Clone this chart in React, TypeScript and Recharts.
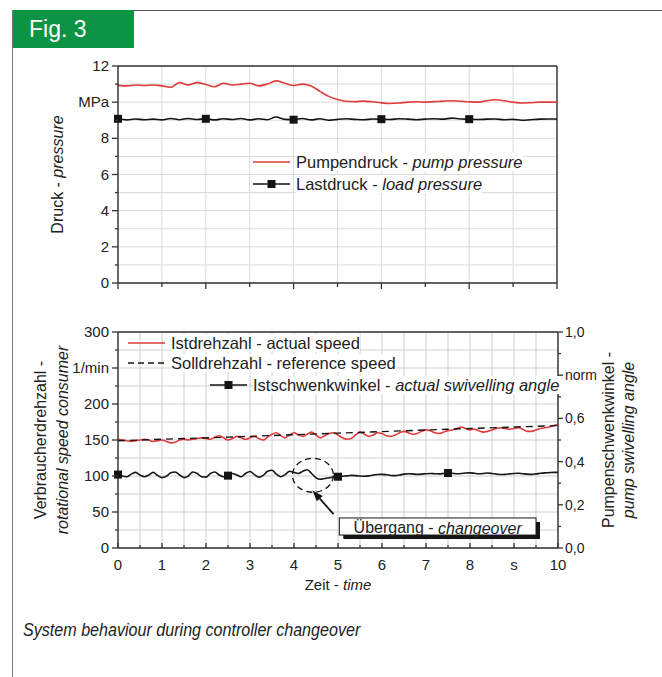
import React from "react";
import {
  CartesianGrid,
  Legend,
  Line,
  LineChart,
  ReferenceArea,
  ReferenceDot,
  ReferenceLine,
  XAxis,
  YAxis,
} from "recharts";

const FONT = '"Liberation Sans", Arial, Helvetica, sans-serif';
const RED = "#e23b3b";
const BLACK = "#141414";
const AXIS = "#333";
const GREEN = "#0b9444";

// ---- top chart: pressure, sampled every 0.2 s ----
const TOP_STEP = 0.2;
const pumpPressure = [
  10.93, 10.9, 10.95, 10.92, 10.95, 10.9, 10.82, 11.08, 10.95, 11.08,
  10.98, 10.85, 11.05, 10.95, 11.0, 11.05, 10.9, 11.0, 11.18, 11.05,
  10.92, 11.0, 10.9, 10.6, 10.32, 10.15, 10.05, 10.03, 10.06, 10.02,
  9.96, 9.93, 9.95, 10.0, 10.02, 10.0, 10.03, 10.06, 10.08, 10.05,
  10.02, 10.0, 10.08, 10.13, 10.08, 10.0, 9.95, 9.97, 10.0, 10.0, 10.0,
];
const loadPressure = [
  9.08, 9.02, 9.07, 9.03, 9.06, 9.02, 9.1, 9.03, 9.1, 9.04,
  9.08, 9.02, 9.08, 9.04, 9.1, 9.02, 9.08, 9.03, 9.18, 9.05,
  9.03, 9.1, 9.02, 9.08, 9.0, 9.05, 9.08, 9.05, 9.03, 9.07,
  9.06, 9.04, 9.08, 9.06, 9.03, 9.06, 9.08, 9.06, 9.12, 9.07,
  9.06, 9.04, 9.06, 9.07, 9.03, 9.05, 9.0, 9.03, 9.06, 9.07, 9.07,
];
const loadMarkers = [0, 2, 4, 6, 8];
const topXTicks = [0, 1, 2, 3, 4, 5, 6, 7, 8, 9, 10];
const topYTicks = [0, 1, 2, 3, 4, 5, 6, 7, 8, 9, 10, 11, 12];
const topSeriesDe = ["Pumpendruck", "Lastdruck"];
const topSeriesEn = ["pump pressure", "load pressure"];

// ---- bottom chart: speed and swivel angle, sampled every 0.1 s ----
const BOTTOM_STEP = 0.1;
const actualSpeed = [
  151, 150, 149, 148, 149, 150, 151, 150, 148, 149,
  150, 148, 146, 147, 150, 151, 150, 151, 152, 153,
  152, 151, 154, 156, 153, 150, 152, 155, 153, 151,
  153, 155, 152, 150, 154, 158, 160, 156, 153, 157,
  160, 157, 155, 158, 161, 157, 153, 156, 159, 160,
  157, 153, 151, 152, 157, 161, 158, 155, 157, 160,
  159, 156, 155, 157, 160, 162, 160, 158, 159, 162,
  164, 163, 160, 159, 161, 163, 164, 166, 168, 166,
  164, 165, 163, 161, 162, 164, 166, 167, 166, 165,
  166, 167, 165, 162, 162, 164, 166, 167, 168, 170, 171,
];
const referenceTimes = [0, 2.5, 5, 7.5, 10];
const referenceSpeed = [149, 154, 159.5, 165, 170];
const swivelAngle = [
  0.34, 0.333, 0.33, 0.342, 0.35, 0.338, 0.33, 0.338, 0.35, 0.336,
  0.326, 0.332, 0.348, 0.352, 0.338, 0.326, 0.334, 0.352, 0.345, 0.33,
  0.328, 0.345, 0.352, 0.338, 0.33, 0.335, 0.345, 0.338, 0.33, 0.345,
  0.354, 0.34, 0.328, 0.336, 0.355, 0.36, 0.342, 0.33, 0.34, 0.355,
  0.35, 0.345, 0.355, 0.362, 0.345, 0.325, 0.318, 0.322, 0.325, 0.328,
  0.33, 0.332, 0.334, 0.336, 0.335, 0.333, 0.332, 0.334, 0.338, 0.34,
  0.341, 0.339, 0.336, 0.335, 0.338, 0.342, 0.344, 0.343, 0.341, 0.342,
  0.344, 0.345, 0.344, 0.343, 0.345, 0.347, 0.346, 0.344, 0.345, 0.347,
  0.348, 0.346, 0.344, 0.345, 0.347, 0.345, 0.342, 0.34, 0.341, 0.343,
  0.345, 0.346, 0.344, 0.342, 0.341, 0.343, 0.346, 0.348, 0.349, 0.35, 0.35,
];
const swivelMarkers = [0, 2.5, 5, 7.5];
const bottomXTicks = [0, 0.5, 1, 1.5, 2, 2.5, 3, 3.5, 4, 4.5, 5, 5.5, 6, 6.5, 7, 7.5, 8, 8.5, 9, 9.5, 10];
const speedTicks = [0, 25, 50, 75, 100, 125, 150, 175, 200, 225, 250, 275, 300];
const angleTicks = [0, 0.1, 0.2, 0.3, 0.4, 0.5, 0.6, 0.7, 0.8, 0.9, 1.0];
const bottomSeriesDe = ["Istdrehzahl", "Solldrehzahl", "Istschwenkwinkel"];
const bottomSeriesEn = ["actual speed", "reference speed", "actual swivelling angle"];
const bottomEnItalic = [false, false, true];

const topData = pumpPressure.map((p, i) => ({
  t: Math.round(i * TOP_STEP * 10) / 10,
  pump: p,
  load: loadPressure[i],
}));
const bottomData = actualSpeed.map((s, i) => ({
  t: Math.round(i * BOTTOM_STEP * 10) / 10,
  speed: s,
  angle: swivelAngle[i],
}));
const refData = referenceTimes.map((t, i) => ({ t, ref: referenceSpeed[i] }));

const squareDots = (marks: number[]) => (props: any) => {
  const { cx, cy, payload, index } = props;
  if (!marks.some((m) => Math.abs(m - payload.t) < 1e-6)) return <g key={`d-${index}`} />;
  return <rect key={`d-${index}`} x={cx - 4} y={cy - 4} width={8} height={8} fill={BLACK} />;
};

const tickText = { fontSize: 15, fill: "#222", fontFamily: FONT };

function TopXTick(props: any) {
  const { x, y, payload } = props;
  const len = payload.value % 2 === 0 ? 6 : 4;
  return <line x1={x} x2={x} y1={y} y2={y + len} stroke={AXIS} strokeWidth={1.3} />;
}

function TopYTick(props: any) {
  const { x, y, payload } = props;
  const v = payload.value;
  const major = v % 2 === 0;
  return (
    <g>
      <line x1={x} x2={x - (major ? 6 : 3)} y1={y} y2={y} stroke={AXIS} strokeWidth={1.3} />
      {major && (
        <text x={x - 9} y={y + 5} textAnchor="end" {...tickText}>
          {v === 10 ? "MPa" : v}
        </text>
      )}
    </g>
  );
}

function BottomXTick(props: any) {
  const { x, y, payload } = props;
  const v = payload.value;
  const major = Number.isInteger(v);
  return (
    <g>
      <line x1={x} x2={x} y1={y} y2={y - (major ? 5 : 3)} stroke={AXIS} strokeWidth={1.3} />
      {major && (
        <text x={x} y={y + 22} textAnchor="middle" {...tickText}>
          {v === 9 ? "s" : v}
        </text>
      )}
    </g>
  );
}

function SpeedTick(props: any) {
  const { x, y, payload } = props;
  const v = payload.value;
  const major = v % 50 === 0;
  return (
    <g>
      <line x1={x} x2={x - (major ? 6 : 3)} y1={y} y2={y} stroke={AXIS} strokeWidth={1.3} />
      {major && (
        <text x={x - 9} y={y + 5} textAnchor="end" {...tickText}>
          {v === 250 ? "1/min" : v}
        </text>
      )}
    </g>
  );
}

function AngleTick(props: any) {
  const { x, y, payload } = props;
  const v = payload.value;
  const major = Math.round(v * 10) % 2 === 0;
  return (
    <g>
      <line x1={x} x2={x + (major ? 5 : 3)} y1={y} y2={y} stroke={AXIS} strokeWidth={1.3} />
      {major && (
        <text x={x + 7} y={y + 5} textAnchor="start" {...tickText} fontSize={14}>
          {Math.round(v * 10) === 8 ? "norm" : v.toFixed(1).replace(".", ",")}
        </text>
      )}
    </g>
  );
}

function VerticalTitle(props: any) {
  const { viewBox, lines, side, dx, gap } = props;
  const vb = viewBox || { x: 0, y: 0, width: 0, height: 0 };
  const axisX = side === "left" ? vb.x + vb.width : vb.x;
  const cx = axisX + dx;
  const cy = vb.y + vb.height / 2;
  const n = lines.length;
  return (
    <g transform={`translate(${cx},${cy}) rotate(-90)`}>
      {lines.map((ln: any, i: number) => (
        <text
          key={i}
          x={0}
          y={(i - (n - 1) / 2) * gap}
          textAnchor="middle"
          dominantBaseline="central"
          fontSize={16}
          fill="#222"
          fontFamily={FONT}
        >
          {ln[0]}
          {ln[1] && <tspan fontStyle="italic">{ln[1]}</tspan>}
        </text>
      ))}
    </g>
  );
}

function TimeTitle(props: any) {
  const vb = props.viewBox || { x: 0, y: 0, width: 0, height: 0 };
  return (
    <text x={vb.x + vb.width / 2} y={vb.y + 42} textAnchor="middle" fontSize={15} fill="#222" fontFamily={FONT}>
      Zeit - <tspan fontStyle="italic">time</tspan>
    </text>
  );
}

function LegendRows({ rows }: { rows: any[] }) {
  return (
    <div style={{ fontFamily: FONT, fontSize: 16.5, color: "#222" }}>
      {rows.map((r) => (
        <div key={r.de} style={{ display: "flex", alignItems: "center", height: r.h, paddingLeft: r.indent }}>
          <svg width={37} height={10} style={{ display: "block" }}>
            <line x1={0} x2={37} y1={5} y2={5} stroke={r.color} strokeWidth={1.6} strokeDasharray={r.dash} />
            {r.marker && <rect x={14.5} y={1} width={8} height={8} fill={r.color} />}
          </svg>
          <span style={{ marginLeft: 6, background: "#fff", whiteSpace: "nowrap", lineHeight: "18px" }}>
            {r.de} - {r.italic ? <i>{r.en}</i> : r.en}
          </span>
        </div>
      ))}
    </div>
  );
}

const topLegendRows = topSeriesDe.map((de, i) => ({
  de,
  en: topSeriesEn[i],
  italic: true,
  color: i === 0 ? RED : BLACK,
  marker: i === 1,
  dash: undefined,
  h: 22,
  indent: 0,
}));
const bottomLegendRows = bottomSeriesDe.map((de, i) => ({
  de,
  en: bottomSeriesEn[i],
  italic: bottomEnItalic[i],
  color: i === 0 ? RED : BLACK,
  marker: i === 2,
  dash: i === 1 ? "6 4" : undefined,
  h: i === 2 ? 23 : 20,
  indent: i === 2 ? 82 : 0,
}));

function ArrowShape(props: any) {
  const { x1, y1, x2, y2 } = props;
  const a = Math.atan2(y2 - y1, x2 - x1);
  const L = 11;
  const W = 4;
  const bx = x2 - L * Math.cos(a);
  const by = y2 - L * Math.sin(a);
  const px = -Math.sin(a) * W;
  const py = Math.cos(a) * W;
  return (
    <g>
      <line x1={x1} y1={y1} x2={bx} y2={by} stroke={BLACK} strokeWidth={1.8} />
      <polygon points={`${x2},${y2} ${bx + px},${by + py} ${bx - px},${by - py}`} fill={BLACK} />
    </g>
  );
}

function EllipseShape(props: any) {
  const { cx, cy } = props;
  return <ellipse cx={cx} cy={cy} rx={20.5} ry={17} fill="none" stroke={BLACK} strokeWidth={1.3} strokeDasharray="6 4" />;
}

function ChangeoverBox(props: any) {
  const { x, y, width, height } = props;
  return (
    <g>
      <rect x={x + 4} y={y + 4} width={width} height={height} fill={BLACK} />
      <rect x={x} y={y} width={width} height={height} fill="#fff" stroke={BLACK} strokeWidth={1} />
      <text
        x={x + width / 2}
        y={y + height / 2 + 1}
        textAnchor="middle"
        dominantBaseline="central"
        fontSize={16}
        fill="#222"
        fontFamily={FONT}
      >
        Übergang - <tspan fontStyle="italic">changeover</tspan>
      </text>
    </g>
  );
}

export default function App() {
  return (
    <div
      style={{
        position: "absolute",
        left: 0,
        top: 0,
        width: 662,
        height: 677,
        background: "#fff",
        overflow: "hidden",
        fontFamily: FONT,
      }}
    >
      {/* frame */}
      <div style={{ position: "absolute", left: 13, top: 10, width: 649, height: 0, borderTop: "1.5px solid #555" }} />
      <div style={{ position: "absolute", left: 12, top: 10, width: 0, height: 667, borderLeft: "1.5px solid #777" }} />
      <div
        style={{
          position: "absolute",
          left: 13,
          top: 10,
          width: 121,
          height: 38,
          background: GREEN,
          color: "#fff",
          fontSize: 23,
          display: "flex",
          alignItems: "center",
          paddingLeft: 16,
          boxSizing: "border-box",
        }}
      >
        Fig. 3
      </div>

      <div style={{ position: "absolute", left: 0, top: 0 }}>
        <LineChart width={662} height={300} data={topData} margin={{ top: 66, right: 105, bottom: 0, left: 58 }}>
          <CartesianGrid stroke="#dadada" strokeWidth={1} />
          <XAxis
            dataKey="t"
            type="number"
            domain={[0, 10]}
            ticks={topXTicks}
            interval={0}
            height={17}
            tickSize={0}
            tickMargin={0}
            tickLine={false}
            tick={TopXTick}
            axisLine={{ stroke: AXIS, strokeWidth: 1.4 }}
          />
          <YAxis
            type="number"
            domain={[0, 12]}
            ticks={topYTicks}
            interval={0}
            width={60}
            tickSize={0}
            tickMargin={0}
            tickLine={false}
            tick={TopYTick}
            axisLine={{ stroke: AXIS, strokeWidth: 1.4 }}
            label={<VerticalTitle side="left" dx={-61} gap={0} lines={[["Druck - ", "pressure"]]} />}
          />
          <ReferenceLine y={12} stroke={AXIS} strokeWidth={1.4} />
          <ReferenceLine x={10} stroke={AXIS} strokeWidth={1.4} />
          <Line dataKey="pump" type="monotone" stroke={RED} strokeWidth={1.6} dot={false} isAnimationActive={false} />
          <Line
            dataKey="load"
            type="monotone"
            stroke={BLACK}
            strokeWidth={1.6}
            dot={squareDots(loadMarkers)}
            isAnimationActive={false}
          />
          <Legend
            layout="horizontal"
            verticalAlign="middle"
            align="center"
            wrapperStyle={{ position: "absolute", left: 253, top: 151, width: 300, height: 44 }}
            content={() => <LegendRows rows={topLegendRows} />}
          />
        </LineChart>
      </div>

      <div style={{ position: "absolute", left: 0, top: 300 }}>
        <LineChart width={662} height={320} data={bottomData} margin={{ top: 32, right: 54, bottom: 32, left: 58 }}>
          <CartesianGrid yAxisId="l" stroke="#cfcfcf" strokeWidth={1} />
          <XAxis
            dataKey="t"
            type="number"
            domain={[0, 10]}
            ticks={bottomXTicks}
            interval={0}
            height={40}
            tickSize={0}
            tickMargin={0}
            tickLine={false}
            tick={BottomXTick}
            axisLine={{ stroke: AXIS, strokeWidth: 1.4 }}
            label={<TimeTitle />}
          />
          <YAxis
            yAxisId="l"
            type="number"
            domain={[0, 300]}
            ticks={speedTicks}
            interval={0}
            width={60}
            tickSize={0}
            tickMargin={0}
            tickLine={false}
            tick={SpeedTick}
            axisLine={{ stroke: AXIS, strokeWidth: 1.4 }}
            label={
              <VerticalTitle
                side="left"
                dx={-67}
                gap={22}
                lines={[["Verbraucherdrehzahl -", ""], ["", "rotational speed consumer"]]}
              />
            }
          />
          <YAxis
            yAxisId="r"
            orientation="right"
            type="number"
            domain={[0, 1]}
            ticks={angleTicks}
            interval={0}
            width={50}
            tickSize={0}
            tickMargin={0}
            tickLine={false}
            tick={AngleTick}
            axisLine={{ stroke: AXIS, strokeWidth: 1.4 }}
            label={
              <VerticalTitle
                side="right"
                dx={60}
                gap={20}
                lines={[["Pumpenschwenkwinkel -", ""], ["", "pump swivelling angle"]]}
              />
            }
          />
          <ReferenceLine yAxisId="l" y={300} stroke={AXIS} strokeWidth={1.4} />
          <Line
            yAxisId="l"
            dataKey="speed"
            type="monotone"
            stroke={RED}
            strokeWidth={1.6}
            dot={false}
            isAnimationActive={false}
          />
          <Line
            yAxisId="l"
            data={refData}
            dataKey="ref"
            type="linear"
            stroke={BLACK}
            strokeWidth={1.4}
            strokeDasharray="7 5"
            dot={false}
            isAnimationActive={false}
          />
          <Line
            yAxisId="r"
            dataKey="angle"
            type="monotone"
            stroke={BLACK}
            strokeWidth={1.6}
            dot={squareDots(swivelMarkers)}
            isAnimationActive={false}
          />
          <ReferenceDot yAxisId="l" x={4.43} y={101} shape={EllipseShape} />
          <ReferenceLine
            yAxisId="l"
            segment={[
              { x: 4.9, y: 47 },
              { x: 4.42, y: 80 },
            ]}
            shape={ArrowShape}
          />
          <ReferenceArea yAxisId="l" x1={5.03} x2={9.5} y1={18} y2={41.7} shape={ChangeoverBox} />
          <Legend
            layout="horizontal"
            verticalAlign="middle"
            align="center"
            wrapperStyle={{ position: "absolute", left: 128, top: 33, width: 440, height: 63 }}
            content={() => <LegendRows rows={bottomLegendRows} />}
          />
        </LineChart>
      </div>

      <div
        style={{
          position: "absolute",
          left: 23,
          top: 619,
          fontFamily: FONT,
          fontStyle: "italic",
          fontSize: 18.5,
          color: "#222",
          whiteSpace: "nowrap",
          transform: "scaleX(0.87)",
          transformOrigin: "left center",
        }}
      >
        System behaviour during controller changeover
      </div>
    </div>
  );
}
